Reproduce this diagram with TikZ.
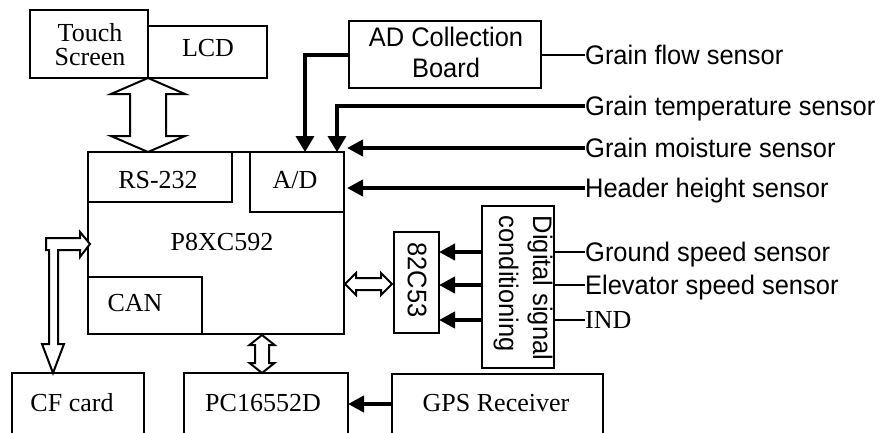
\documentclass[tikz,border=0pt]{standalone}
\usepackage{fontspec}
\setmainfont{Liberation Serif}
\newfontfamily\arialf[FakeStretch=0.95]{Liberation Sans}
\usetikzlibrary{arrows.meta,calc}
\begin{document}
\begin{tikzpicture}[x=1pt,y=-1pt,
  box/.style={draw,line width=2pt,anchor=north west,inner sep=0pt,outer sep=0pt},
  tms/.style={font=\fontsize{26}{24}\selectfont,inner sep=0pt,anchor=base},
  ari/.style={font=\arialf\fontsize{26.8}{31}\selectfont,inner sep=0pt},
  lbl/.style={ari,anchor=west,text height=19pt,text depth=0pt},
  thk/.style={line width=4pt,-{Triangle[length=16pt,width=16pt]}},
  thm/.style={line width=3.5pt,-{Triangle[length=16pt,width=18pt]}},
  thn/.style={line width=2pt},
  hollow/.style={draw,line width=2pt,fill=white,line join=miter}]
\useasboundingbox (0,0) rectangle (881,432);
\clip (0,0) rectangle (881,432);

% boxes
\node[box,minimum width=118pt,minimum height=68pt] (touch) at (30,10) {};
\node[box,minimum width=119pt,minimum height=52pt] (lcd) at (148,26) {};
\node[box,minimum width=256pt,minimum height=182pt] (main) at (88,152) {};
\node[box,minimum width=144pt,minimum height=50pt] (rs) at (88,152) {};
\node[box,minimum width=94pt,minimum height=60pt] (ad) at (250,152) {};
\node[box,minimum width=114pt,minimum height=57pt] (can) at (88,277) {};
\node[box,minimum width=192pt,minimum height=67pt] (adcb) at (349,21) {};
\node[box,minimum width=45pt,minimum height=101pt] (c53) at (394,232) {};
\node[box,minimum width=72pt,minimum height=162pt] (dsc) at (482,206) {};
\node[box,minimum width=132pt,minimum height=70pt] (cf) at (12,373) {};
\node[box,minimum width=164pt,minimum height=70pt] (pc) at (184,373) {};
\node[box,minimum width=211pt,minimum height=70pt] (gps) at (392,374) {};

% box texts
\node[tms,anchor=center,align=center] (ttouch) at (90,45) {Touch\\Screen};
\node[tms] (tlcd) at (208,56) {LCD};
\node[tms] (trs) at (158,188) {RS-232};
\node[tms] (tad) at (295,188) {A/D};
\node[tms] (tmain) at (222,250) {P8XC592};
\node[tms] (tcan) at (135,311) {CAN};
\node[tms] (tcf) at (72,411) {CF card};
\node[tms] (tpc) at (263,411) {PC16552D};
\node[tms] (tgps) at (496,411) {GPS Receiver};
\node[ari,align=center] (tadcb) at (446,52) {AD Collection\\Board};
\node[ari,rotate=-90] (t53) at (417,280) {82C53};
\node[ari,rotate=-90,align=left,font=\arialf\fontsize{26.8}{34}\selectfont] (tdsc) at (523,288) {Digital signal\\conditioning};

% sensor labels
\node[lbl] (gf) at (585,55) {Grain flow sensor};
\node[lbl] (gt) at (585,106) {Grain temperature sensor};
\node[lbl] (gm) at (585,148) {Grain moisture sensor};
\node[lbl] (hh) at (585,188) {Header height sensor};
\node[lbl] (gs) at (585,252) {Ground speed sensor};
\node[lbl] (es) at (585,285) {Elevator speed sensor};
\node[lbl,font=\fontsize{26}{24}\selectfont,text height=17pt] (ind) at (585,320) {IND};

\coordinate (fin) at (305,152);
\coordinate (tin) at (337,152);
\coordinate (gpsy) at (0,404);

% connectors
\draw[thn] (adcb.east |- gf.west) -- (gf.west);
\draw[thm] (adcb.west |- gf.west) -| (fin);
\draw[thm] (gt.west) -| (tin);
\draw[thk,shorten >=3pt] (gm.west) -- (ad.east |- gm.west);
\draw[thk,shorten >=3pt] (hh.west) -- (ad.east |- hh.west);
\draw[thn] (dsc.east |- gs.west) -- (gs.west);
\draw[thn] (dsc.east |- es.west) -- (es.west);
\draw[thn] (dsc.east |- ind.west) -- (ind.west);
\draw[thk] (dsc.west |- gs.west) -- (c53.east |- gs.west);
\draw[thk] (dsc.west |- es.west) -- (c53.east |- es.west);
\draw[thk] (dsc.west |- ind.west) -- (c53.east |- ind.west);
\draw[thk] (gps.west |- gpsy) -- (pc.east |- gpsy);

% hollow arrows
\path[hollow] (148,78) -- (185,94) -- (166,94) -- (166,136) -- (185,136) -- (148,152)
  -- (111,136) -- (130,136) -- (130,94) -- (111,94) -- cycle;
\path[hollow] (262,335) -- (274.5,345) -- (269,345) -- (269,363) -- (274.5,363) -- (262,373)
  -- (249.5,363) -- (255,363) -- (255,345) -- (249.5,345) -- cycle;
\path[hollow] (345,284) -- (356,273) -- (356,278) -- (381,278) -- (381,273) -- (392,284)
  -- (381,295) -- (381,290) -- (356,290) -- (356,295) -- cycle;
\path[hollow] (46,238) -- (80,238) -- (80,232) -- (90,244) -- (80,257) -- (80,250)
  -- (58,250) -- (58,344) -- (64,344) -- (53,373) -- (42,344) -- (49,344) -- (49,250)
  -- (46,250) -- cycle;
\end{tikzpicture}
\end{document}
